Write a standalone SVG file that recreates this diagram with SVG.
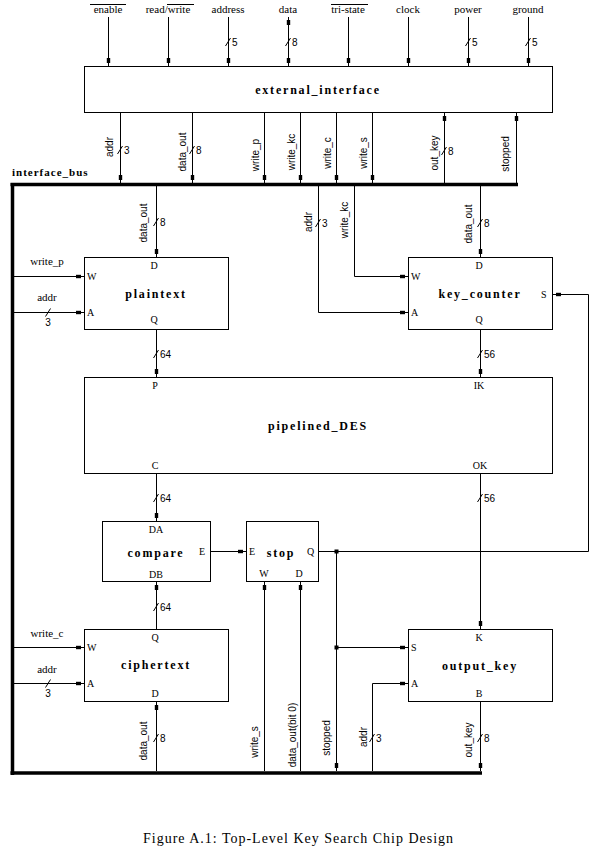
<svg xmlns="http://www.w3.org/2000/svg" width="594" height="858" viewBox="0 0 594 858">
<defs>
<style>
.box{fill:#fff;stroke:#000;stroke-width:1}
.w{fill:none;stroke:#000;stroke-width:1}
.bus{fill:none;stroke:#000;stroke-width:3.5}
.lbl{font-family:"Liberation Serif",serif;font-size:11px;text-anchor:middle}
.port{font-family:"Liberation Serif",serif;font-size:10px}
.pm{text-anchor:middle}
.ttl{font-family:"Liberation Serif",serif;font-size:12px;font-weight:bold;letter-spacing:1.8px;text-anchor:middle}
.rot{font-family:"Liberation Sans",sans-serif;font-size:10px;text-anchor:middle}
.num{font-family:"Liberation Sans",sans-serif;font-size:10px}
.a{marker-end:url(#m)}
</style>
<marker id="m" markerUnits="userSpaceOnUse" markerWidth="12" markerHeight="8" refX="10" refY="4" orient="auto-start-reverse">
<rect x="2" y="2.3" width="5" height="3.4" fill="#000"/>
</marker>
<marker id="dot" markerUnits="userSpaceOnUse" markerWidth="6" markerHeight="6" refX="3" refY="3">
<rect x="1" y="1" width="4" height="4" fill="#000"/>
</marker>
</defs>
<rect width="594" height="858" fill="#fff"/>

<g id="top-labels">
<text class="lbl" x="108" y="13">enable</text>
<line class="w" x1="90" y1="4.5" x2="126" y2="4.5"/>
<text class="lbl" x="168" y="13">read/write</text>
<line class="w" x1="167" y1="4.5" x2="194" y2="4.5"/>
<text class="lbl" x="228" y="13">address</text>
<text class="lbl" x="288" y="13">data</text>
<text class="lbl" x="348" y="13">tri-state</text>
<line class="w" x1="331" y1="4.5" x2="368" y2="4.5"/>
<text class="lbl" x="408" y="13">clock</text>
<text class="lbl" x="468" y="13">power</text>
<text class="lbl" x="528" y="13">ground</text>
</g>

<g id="external_interface">
<rect class="box" x="84.5" y="66.5" width="468" height="46"/>
<text class="ttl" x="318" y="94">external_interface</text>
</g>

<g id="plaintext">
<rect class="box" x="84.5" y="257.5" width="144" height="72"/>
<text class="ttl" x="156" y="298">plaintext</text>
<text class="port pm" x="154" y="269">D</text>
<text class="port pm" x="154" y="323">Q</text>
<text class="port" x="87" y="280">W</text>
<text class="port" x="87" y="316">A</text>
</g>

<g id="key_counter">
<rect class="box" x="408.5" y="257.5" width="144" height="72"/>
<text class="ttl" x="480" y="298">key_counter</text>
<text class="port pm" x="479" y="269">D</text>
<text class="port pm" x="479" y="323">Q</text>
<text class="port" x="411" y="280">W</text>
<text class="port" x="411" y="316">A</text>
<text class="port" x="541" y="298">S</text>
</g>

<g id="pipelined_DES">
<rect class="box" x="84.5" y="377.5" width="468" height="96"/>
<text class="ttl" x="318" y="430">pipelined_DES</text>
<text class="port pm" x="155" y="389">P</text>
<text class="port pm" x="479" y="389">IK</text>
<text class="port pm" x="155" y="469">C</text>
<text class="port pm" x="480" y="469">OK</text>
</g>

<g id="compare">
<rect class="box" x="102.5" y="521.5" width="108" height="60"/>
<text class="ttl" x="156" y="557">compare</text>
<text class="port pm" x="156" y="533">DA</text>
<text class="port pm" x="156" y="578">DB</text>
<text class="port" x="199" y="555">E</text>
</g>

<g id="stop">
<rect class="box" x="246.5" y="521.5" width="72" height="60"/>
<text class="ttl" x="281" y="557">stop</text>
<text class="port" x="249" y="555">E</text>
<text class="port" x="307" y="555">Q</text>
<text class="port pm" x="264" y="577">W</text>
<text class="port pm" x="299" y="577">D</text>
</g>

<g id="ciphertext">
<rect class="box" x="84.5" y="629.5" width="144" height="72"/>
<text class="ttl" x="156" y="669">ciphertext</text>
<text class="port pm" x="155" y="641">Q</text>
<text class="port pm" x="155" y="697">D</text>
<text class="port" x="87" y="651">W</text>
<text class="port" x="87" y="687">A</text>
</g>

<g id="output_key">
<rect class="box" x="408.5" y="629.5" width="144" height="72"/>
<text class="ttl" x="480" y="670">output_key</text>
<text class="port pm" x="479" y="641">K</text>
<text class="port pm" x="479" y="697">B</text>
<text class="port" x="411" y="651">S</text>
<text class="port" x="411" y="687">A</text>
</g>

<g id="interface_bus">
<path class="bus" d="M10.5 184.5 H518"/>
<path class="bus" d="M12.5 183 V775"/>
<path class="bus" d="M10.5 773 H482"/>
<text x="12" y="176" font-family="Liberation Serif, serif" font-size="11" font-weight="bold" letter-spacing="1">interface_bus</text>
</g>

<g id="connectors">
<path class="w a" d="M108.5 17 V66"/>
<path class="w a" d="M168.5 17 V66"/>
<path class="w a" d="M228.5 17 V66"/>
<path class="w a" d="M288.5 17 V66" marker-start="url(#m)"/>
<path class="w a" d="M348.5 17 V66"/>
<path class="w a" d="M408.5 17 V66"/>
<path class="w a" d="M468.5 17 V66"/>
<path class="w a" d="M528.5 17 V66"/>

<path class="w a" d="M120.5 113 V183"/>
<path class="w a" d="M192.5 113 V183"/>
<path class="w a" d="M264.5 113 V183"/>
<path class="w a" d="M300.5 113 V183"/>
<path class="w a" d="M336.5 113 V183"/>
<path class="w a" d="M372.5 113 V183"/>
<path class="w a" d="M444.5 183 V113"/>
<path class="w a" d="M516.5 183 V113"/>

<path class="w a" d="M156.5 186 V257"/>
<path class="w a" d="M318.5 186 V312.5 H408"/>
<path class="w a" d="M354.5 186 V276.5 H408"/>
<path class="w a" d="M480.5 186 V257"/>
<path class="w a" d="M14 276.5 H84"/>
<path class="w a" d="M14 312.5 H84"/>
<path class="w a" d="M156.5 330 V377"/>
<path class="w a" d="M480.5 330 V377"/>
<path class="w a" d="M156.5 474 V521"/>
<path class="w a" d="M480.5 474 V629"/>
<path class="w a" d="M211 551.5 H246"/>
<path class="w a" d="M319 551.5 H588.5 V294.5 H553"/>
<path class="w a" d="M156.5 629 V582"/>
<path class="w a" d="M264.5 771 V582"/>
<path class="w a" d="M300.5 771 V582"/>
<path class="w a" d="M336.5 551.5 V771"/>
<path class="w a" d="M336.5 647.5 H408"/>
<path class="w a" d="M372.5 771 V683.5 H408"/>
<path class="w a" d="M480.5 702 V771"/>
<path class="w a" d="M14 647.5 H84"/>
<path class="w a" d="M14 683.5 H84"/>
<path class="w a" d="M156.5 771 V702"/>
<rect x="334.5" y="549.5" width="4" height="4" fill="#000"/>
<rect x="334.5" y="645.5" width="4" height="4" fill="#000"/>

<g class="w">
<path d="M225.5 46 L230.5 38"/><path d="M285.5 46 L290.5 38"/><path d="M465.5 46 L470.5 38"/><path d="M525.5 46 L530.5 38"/>
<path d="M117.5 154 L122.5 146"/><path d="M189.5 154 L194.5 146"/><path d="M441.5 155 L446.5 147"/>
<path d="M153.5 226 L158.5 218"/><path d="M315.5 227 L320.5 219"/><path d="M477.5 227 L482.5 219"/>
<path d="M45.5 316.5 L50.5 308.5"/><path d="M45.5 687.5 L50.5 679.5"/>
<path d="M153.5 358 L158.5 350"/><path d="M477.5 358 L482.5 350"/>
<path d="M153.5 502 L158.5 494"/><path d="M477.5 502 L482.5 494"/>
<path d="M153.5 611 L158.5 603"/>
<path d="M153.5 742 L158.5 734"/><path d="M369.5 742 L374.5 734"/><path d="M477.5 742 L482.5 734"/>
</g>
<g class="num">
<text x="232" y="46">5</text><text x="292" y="46">8</text><text x="472" y="46">5</text><text x="532" y="46">5</text>
<text x="124" y="154">3</text><text x="196" y="154">8</text><text x="448" y="155">8</text>
<text x="160" y="226">8</text><text x="322" y="227">3</text><text x="484" y="227">8</text>
<text x="48" y="326" text-anchor="middle">3</text><text x="48" y="697" text-anchor="middle">3</text>
<text x="160" y="358">64</text><text x="484" y="358">56</text>
<text x="160" y="502">64</text><text x="484" y="502">56</text>
<text x="160" y="611">64</text>
<text x="160" y="742">8</text><text x="376" y="742">3</text><text x="484" y="742">8</text>
</g>

<g class="lbl">
<text x="47" y="265">write_p</text>
<text x="47" y="301">addr</text>
<text x="47" y="637">write_c</text>
<text x="47" y="673">addr</text>
</g>

<g class="rot">
<text transform="translate(113,147) rotate(-90)">addr</text>
<text transform="translate(186,152) rotate(-90)">data_out</text>
<text transform="translate(259,155) rotate(-90)">write_p</text>
<text transform="translate(295,152) rotate(-90)">write_kc</text>
<text transform="translate(331,153) rotate(-90)">write_c</text>
<text transform="translate(367,153) rotate(-90)">write_s</text>
<text transform="translate(438,153) rotate(-90)">out_key</text>
<text transform="translate(509,154) rotate(-90)">stopped</text>
<text transform="translate(147,223) rotate(-90)">data_out</text>
<text transform="translate(312,222) rotate(-90)">addr</text>
<text transform="translate(348,220) rotate(-90)">write_kc</text>
<text transform="translate(472,224) rotate(-90)">data_out</text>
<text transform="translate(147,741) rotate(-90)">data_out</text>
<text transform="translate(258,742) rotate(-90)">write_s</text>
<text transform="translate(296,735) rotate(-90)">data_out(bit 0)</text>
<text transform="translate(330,738) rotate(-90)">stopped</text>
<text transform="translate(367,737) rotate(-90)">addr</text>
<text transform="translate(472,740) rotate(-90)">out_key</text>
</g>
</g>

<text x="298" y="843" font-family="Liberation Serif, serif" font-size="14" text-anchor="middle" textLength="310" lengthAdjust="spacing">Figure A.1:  Top-Level Key Search Chip Design</text>
</svg>
